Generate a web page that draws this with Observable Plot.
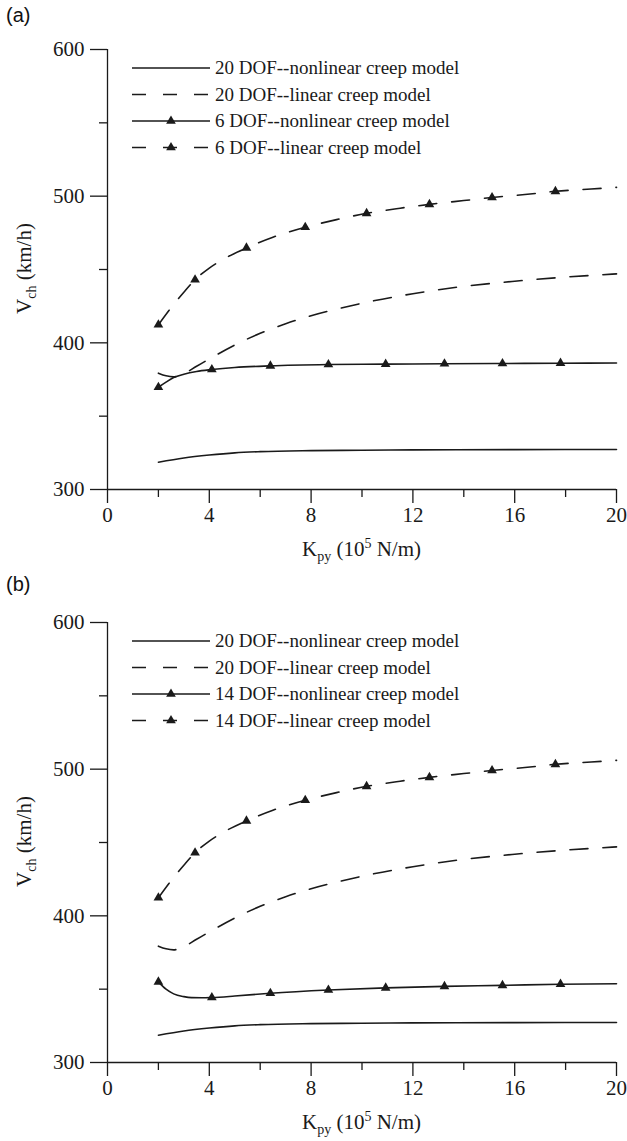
<!DOCTYPE html>
<html><head><meta charset="utf-8">
<script src="https://cdn.jsdelivr.net/npm/d3@7"></script>
<script src="https://cdn.jsdelivr.net/npm/@observablehq/plot@0.6"></script>
<style>
body{margin:0;background:#fff;}
#wrap{position:relative;width:627px;height:1141px;overflow:hidden;background:#fff;}
#wrap svg text{font-family:"Liberation Serif","Times New Roman",serif !important;}
.panel{position:absolute;left:0;width:627px;}
.tag{position:absolute;left:6px;font-family:"Liberation Sans",Arial,sans-serif;font-size:20px;color:#111;}
</style></head><body><div id="wrap"></div>
<script>
// ---- data ----
const xMajor = [0, 4, 8, 12, 16, 20];
const xMinor = [2, 6, 10, 14, 18];
const yMajor = [300, 400, 500, 600];
const yMinor = [350, 450, 550];

// 20 DOF - nonlinear creep model (both panels)
const k20Non = [2, 3, 4, 5, 6, 8, 10, 12, 16, 20];
const v20Non = [318.6, 321.5, 323.5, 325, 325.8, 326.5, 326.8, 327, 327.2, 327.3];

// 20 DOF - linear creep model (both panels)
const k20Lin = [2, 2.3, 2.6, 3.0, 3.5, 4, 5, 6, 7, 8, 9, 10, 12, 14, 16, 18, 20];
const v20Lin = [379.3, 377.5, 376.8, 379, 384, 389, 398.5, 406.5, 413, 418.5, 423, 427, 433.5, 438.5, 442, 444.8, 447];

// reduced model (6 DOF / 14 DOF) - linear creep model (same in both panels)
const kRedLin = [2, 2.5, 3, 3.44, 4, 4.5, 5.46, 6.5, 7.77, 9, 10.18, 11.5, 12.65, 14, 15.11, 16.5, 17.6, 19, 20];
const vRedLin = [412.3, 424, 434.5, 443, 451, 456.5, 464.7, 472, 478.8, 484, 488.3, 491.8, 494.4, 497, 499.1, 501.3, 503.3, 504.9, 506];
const kRedLinMk = [2, 3.44, 5.46, 7.77, 10.18, 12.65, 15.11, 17.6];
const vRedLinMk = [412.3, 443, 464.7, 478.8, 488.3, 494.4, 499.1, 503.3];

// 6 DOF - nonlinear creep model (panel a)
const k6Non = [2, 2.3, 2.6, 3.0, 3.5, 4.1, 5, 6.4, 8.68, 10.93, 13.24, 15.52, 17.8, 20];
const v6Non = [369.7, 373.2, 376.3, 378.6, 380.5, 381.8, 383.2, 384.3, 385.2, 385.5, 385.7, 385.9, 386.1, 386.2];
const k6NonMk = [2, 4.1, 6.4, 8.68, 10.93, 13.24, 15.52, 17.8];
const v6NonMk = [369.7, 381.8, 384.3, 385.2, 385.5, 385.7, 385.9, 386.1];

// 14 DOF - nonlinear creep model (panel b)
const k14Non = [2, 2.3, 2.6, 3.0, 3.3, 3.7, 4.1, 5, 6.4, 8.68, 10.93, 13.24, 15.52, 17.8, 20];
const v14Non = [355, 350, 346.8, 344.9, 344.2, 344.1, 344.3, 345.3, 347.2, 349.4, 350.9, 351.9, 352.6, 353.4, 353.7];
const k14NonMk = [2, 4.1, 6.4, 8.68, 10.93, 13.24, 15.52, 17.8];
const v14NonMk = [355, 344.3, 347.2, 349.4, 350.9, 351.9, 352.6, 353.4];

const legendA = ["20 DOF--nonlinear creep model", "20 DOF--linear creep model", "6 DOF--nonlinear creep model", "6 DOF--linear creep model"];
const legendB = ["20 DOF--nonlinear creep model", "20 DOF--linear creep model", "14 DOF--nonlinear creep model", "14 DOF--linear creep model"];

const pts = (k, v) => k.map((x, i) => [x, v[i]]);
const DASH = "18,15";
const INK = "#1a1a1a";
const FONT = "'Liberation Serif', 'Times New Roman', serif";

function makePanel(tag, tagTop, top, height, redNonK, redNonV, redNonMkK, redNonMkV, legend) {
  const div = document.createElement("div");
  div.className = "panel";
  div.style.top = top + "px";
  div.style.height = height + "px";
  const svg = Plot.plot({
    width: 627, height,
    marginLeft: 107, marginRight: 11, marginTop: 49, marginBottom: height - 489,
    style: {fontFamily: FONT, fontSize: "21px", color: INK, background: "transparent", overflow: "visible"},
    x: {domain: [0, 20]},
    y: {domain: [300, 600]},
    marks: [
      Plot.axisY({ticks: yMajor, tickSize: 17, tickPadding: 6, label: null, strokeWidth: 1.3, fontSize: 21, fontFamily: FONT}),
      Plot.axisY({ticks: yMinor, tickSize: 8, tickFormat: () => "", label: null, strokeWidth: 1.3}),
      Plot.axisX({ticks: xMajor, tickSize: 14, tickPadding: 4, label: null, strokeWidth: 1.3, fontSize: 21, fontFamily: FONT}),
      Plot.axisX({ticks: xMinor, tickSize: 8, tickFormat: () => "", label: null, strokeWidth: 1.3}),
      Plot.ruleX([0], {stroke: INK, strokeWidth: 1.3}),
      Plot.ruleY([300], {stroke: INK, strokeWidth: 1.3}),
      Plot.line(pts(k20Non, v20Non), {curve: "monotone-x", stroke: INK, strokeWidth: 1.6}),
      Plot.line(pts(k20Lin, v20Lin), {curve: "monotone-x", stroke: INK, strokeWidth: 1.6, strokeDasharray: DASH}),
      Plot.line(pts(kRedLin, vRedLin), {curve: "monotone-x", stroke: INK, strokeWidth: 1.6, strokeDasharray: DASH}),
      Plot.line(pts(redNonK, redNonV), {curve: "monotone-x", stroke: INK, strokeWidth: 1.6}),
      Plot.dot(pts(kRedLinMk, vRedLinMk), {symbol: "triangle", r: 3.6, fill: INK, stroke: "none"}),
      Plot.dot(pts(redNonMkK, redNonMkV), {symbol: "triangle", r: 3.6, fill: INK, stroke: "none"})
    ]
  });
  const s = d3.select(svg);
  // x axis label
  const xl = s.append("text").attr("x", 361.5).attr("y", 556).attr("text-anchor", "middle")
    .attr("font-family", FONT).attr("font-size", 21).attr("fill", INK);
  xl.append("tspan").text("K");
  xl.append("tspan").attr("font-size", 14).attr("dy", 5).text("py");
  xl.append("tspan").attr("dy", -5).text(" (10");
  xl.append("tspan").attr("font-size", 14).attr("dy", -8).text("5");
  xl.append("tspan").attr("dy", 8).text(" N/m)");
  // y axis label
  const yl = s.append("text").attr("transform", "translate(31,268.5) rotate(-90)").attr("text-anchor", "middle")
    .attr("font-family", FONT).attr("font-size", 21).attr("fill", INK);
  yl.append("tspan").text("V");
  yl.append("tspan").attr("font-size", 14).attr("dy", 5).text("ch");
  yl.append("tspan").attr("dy", -5).text(" (km/h)");
  // legend
  const rows = [68, 94.5, 121, 147.5];
  const g = s.append("g");
  const styles = [
    {dash: null, mk: false}, {dash: "14,17", mk: false},
    {dash: null, mk: true}, {dash: "14,17", mk: true}
  ];
  styles.forEach((st, i) => {
    const y = rows[i];
    const ln = g.append("line").attr("x1", 132).attr("x2", 210).attr("y1", y).attr("y2", y)
      .attr("stroke", INK).attr("stroke-width", 1.6);
    if (st.dash) ln.attr("stroke-dasharray", st.dash);
    if (st.mk) g.append("path").attr("d", d3.symbol(d3.symbolTriangle, Math.PI * 3.6 * 3.6)())
      .attr("transform", `translate(171,${y})`).attr("fill", INK);
    g.append("text").attr("x", 215).attr("y", y).attr("dy", "0.33em").attr("text-anchor", "start")
      .attr("font-family", FONT).attr("font-size", 19).attr("fill", INK).text(legend[i]);
  });
  div.appendChild(svg);
  const t = document.createElement("div");
  t.className = "tag"; t.textContent = tag; t.style.top = tagTop + "px";
  div.appendChild(t);
  document.getElementById("wrap").appendChild(div);
}

makePanel("(a)", 4, 0, 573, k6Non, v6Non, k6NonMk, v6NonMk, legendA);
makePanel("(b)", 0, 573, 568, k14Non, v14Non, k14NonMk, v14NonMk, legendB);
</script>
</body></html>
